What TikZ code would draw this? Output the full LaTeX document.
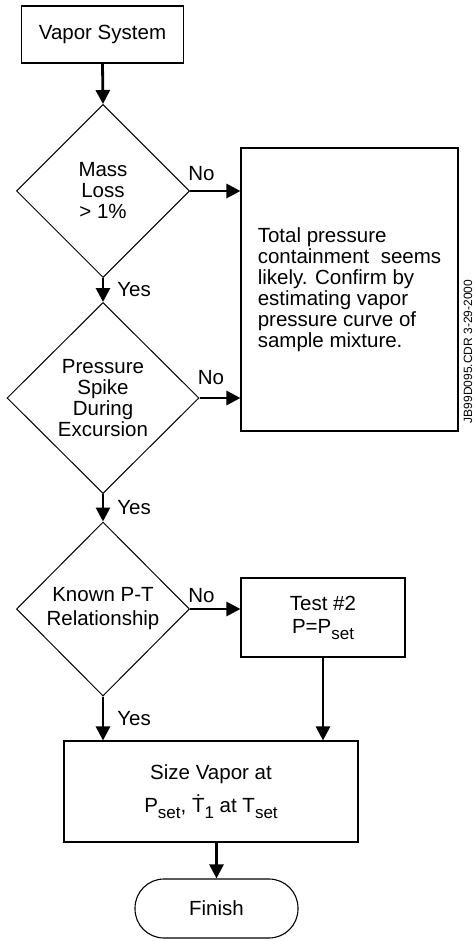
\documentclass[tikz,border=0pt]{standalone}
\usepackage{fontspec}
\setmainfont{Liberation Sans}
\usetikzlibrary{shapes.geometric,arrows.meta,positioning}
\newcommand{\bigtxt}[1]{\fontsize{20.5}{#1}\selectfont}
\newcommand{\lowsub}[1]{\raisebox{-6pt}{\fontsize{17}{17}\selectfont #1}}
\tikzset{
  procbox/.style={draw,line width=1.1pt,align=center,inner sep=0pt,font=\bigtxt{21}},
  decision/.style={draw,diamond,line width=1pt,align=center,inner sep=0pt,font=\bigtxt{21}},
  flow/.style={line width=2.8pt,-{Triangle[width=14pt,length=14pt]}},
  nolbl/.style={pos=0,anchor=south west,inner sep=2pt,xshift=-5pt,font=\bigtxt{21}},
  yeslbl/.style={midway,right=11pt,inner sep=2pt,font=\bigtxt{21}},
}

\begin{document}
\begin{tikzpicture}[x=1pt,y=-1pt]

  % fixed frame, same size as the reference
  \path[use as bounding box] (0,0) rectangle (475,941);

  % ---------------- left column: start and decisions ----------------
  \node[procbox,minimum width=162pt,minimum height=57pt] (sys) at (102.5,34.5) {Vapor System};
  \node[decision,minimum width=173pt,minimum height=173pt] (loss) at (103,191) {Mass\\Loss\\> 1\%};
  \node[decision,minimum width=192pt,minimum height=191pt] (spike) at (103,398) {Pressure\\Spike\\During\\Excursion};
  \node[decision,minimum width=173pt,minimum height=174pt,font=\bigtxt{24}] (known) at (103,609) {Known P-T\\Relationship};

  % ---------------- right column ----------------
  \node[procbox,align=left,minimum width=217pt,minimum height=283pt] (conf) at (349.5,289.5)
    {Total pressure\\containment\ \ seems\\likely. Confirm by\\estimating vapor\\pressure curve of\\sample mixture.};
  \node[procbox,minimum width=164pt,minimum height=79pt,font=\bigtxt{23}] (test) at (323,617.5) {Test \#2\\P=P\lowsub{set}};

  % ---------------- sizing and end ----------------
  \node[procbox,minimum width=294pt,minimum height=101pt] (size) at (211,791.5)
    {Size Vapor at\\[10pt]P\lowsub{set}, \.{T}\lowsub{1} at T\lowsub{set}};
  \node[procbox,rounded corners=29pt,minimum width=163pt,minimum height=59pt] (fin) at (216.5,908.5) {Finish};

  % drawing tag on the right edge
  \node[rotate=90,font=\fontsize{12}{14}\selectfont] (tag) at (468,351.5) {JB99D095.CDR 3-29-2000};

  % ---------------- connectors ----------------
  \draw[flow] (sys.south) -- (loss.north);
  \draw[flow] (loss.south) -- node[yeslbl] {Yes} (spike.north);
  \draw[flow] (spike.south) -- node[yeslbl] {Yes} (known.north);
  \draw[flow] (known.south) -- node[yeslbl] {Yes} (known.south |- size.north);

  \draw[flow] (loss.east) -- node[nolbl,yshift=7pt] {No} (loss.east -| conf.west);
  \draw[flow] (spike.east) -- node[nolbl,yshift=10pt] {No} (spike.east -| conf.west);
  \draw[flow] (known.east) -- node[nolbl,yshift=3pt] {No} (known.east -| test.west);

  \draw[flow] (test.south) -- (test.south |- size.north);
  \draw[flow] (size.south -| fin.north) -- (fin.north);

\end{tikzpicture}
\end{document}
